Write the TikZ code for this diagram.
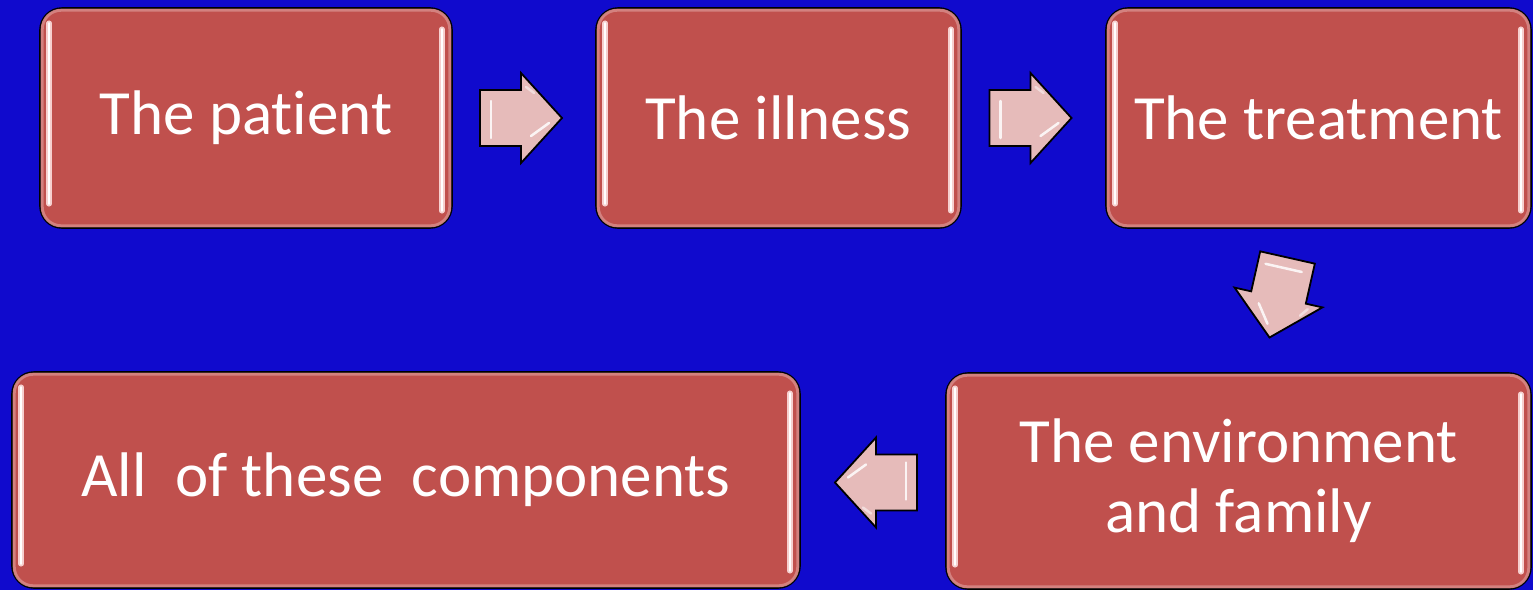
\documentclass[tikz,border=0pt]{standalone}
\usepackage{fontspec}
\setmainfont{Carlito}[Ligatures={NoCommon}]
\usetikzlibrary{calc}

\definecolor{bgblue}{RGB}{16,10,205}
\definecolor{boxred}{RGB}{192,80,77}
\definecolor{rimred}{RGB}{218,146,144}
\definecolor{arrowpink}{RGB}{230,187,186}
\definecolor{sheen}{RGB}{246,208,207}

\tikzset{
  stage/.style={draw=black, line width=1.6pt, fill=boxred, rounded corners=22pt,
    text=white, font=\fontsize{63}{70}\selectfont, align=center, inner sep=0pt},
  rim/.style={draw=rimred, line width=3pt, rounded corners=19pt, opacity=0.75},
  streak/.style={line cap=round, line width=5.5pt, draw=sheen},
  streakcore/.style={line cap=round, line width=2pt, draw=white},
  blockarrow/.style={draw=black, line width=1.8pt, fill=arrowpink, line join=miter},
  glint/.style={draw=white, line width=2.5pt, line cap=round, opacity=0.85},
}

% glossy rim and side highlights of a stage box
\newcommand\stagesheen[1]{%
  \draw[rim] ($(#1.north west)+(3,3)$) rectangle ($(#1.south east)+(-3,-3)$);
  \draw[streak] ($(#1.north west)+(10,16)$) -- ($(#1.south west)+(10,-25)$);
  \draw[streakcore] ($(#1.north west)+(10,16)$) -- ($(#1.south west)+(10,-25)$);
  \draw[streak] ($(#1.north east)+(-11,22)$) -- ($(#1.south east)+(-11,-18)$);
  \draw[streakcore] ($(#1.north east)+(-11,22)$) -- ($(#1.south east)+(-11,-18)$);
}

% bevelled block arrow centred on a coordinate, pointing along the given angle
\newcommand\flowarrow[2]{%
  \begin{scope}[shift={(#1)}, rotate=#2]
    \draw[blockarrow] (-41,-28) -- (0,-28) -- (0,-45) -- (41,0) -- (0,45) -- (0,28)
      -- (-41,28) -- cycle;
    \draw[glint] (-30,-17) -- (-30,20);
    \draw[glint] (10,18) -- (28,5);
    \draw[glint, opacity=0.5] (5,-31) -- (13,-25);
  \end{scope}}

\begin{document}
\begin{tikzpicture}[x=1pt, y=-1pt]
  \useasboundingbox (0,0) rectangle (1533,590);
  \fill[bgblue] (0,0) rectangle (1533,590);

  % stages
  \node[stage, minimum width=412pt, minimum height=220pt] (p) at (246,118) {\raisebox{-2pt}{The pat\kern0pt ient}};
  \node[stage, minimum width=365pt, minimum height=220pt] (i) at (778.5,118) {The illness};
  \node[stage, minimum width=425pt, minimum height=220pt] (t) at (1318.5,118) {The treatment};
  \node[stage, minimum width=585pt, minimum height=216pt] (e) at (1238.5,481) {The environment\\and family};
  \node[stage, minimum width=788pt, minimum height=216pt] (a) at (406,480) {All\ \ of these\ \ components};

  \foreach \n in {p,i,t,e,a} {\stagesheen{\n}}

  % arrows between the stages
  \coordinate (ar1) at ($(p.east)!0.5!(i.west)+(-3,0)$);
  \coordinate (ar2) at ($(i.east)!0.5!(t.west)+(-3,0)$);
  \coordinate (ar3) at ($(t.south)!0.5!(e.north)+(0,-3)$);
  \coordinate (ar4) at ($(e.west)!0.5!(a.east)+(3,2)$);

  \flowarrow{ar1}{0}
  \flowarrow{ar2}{0}
  \flowarrow{ar3}{-102.7}
  \flowarrow{ar4}{180}
\end{tikzpicture}
\end{document}
